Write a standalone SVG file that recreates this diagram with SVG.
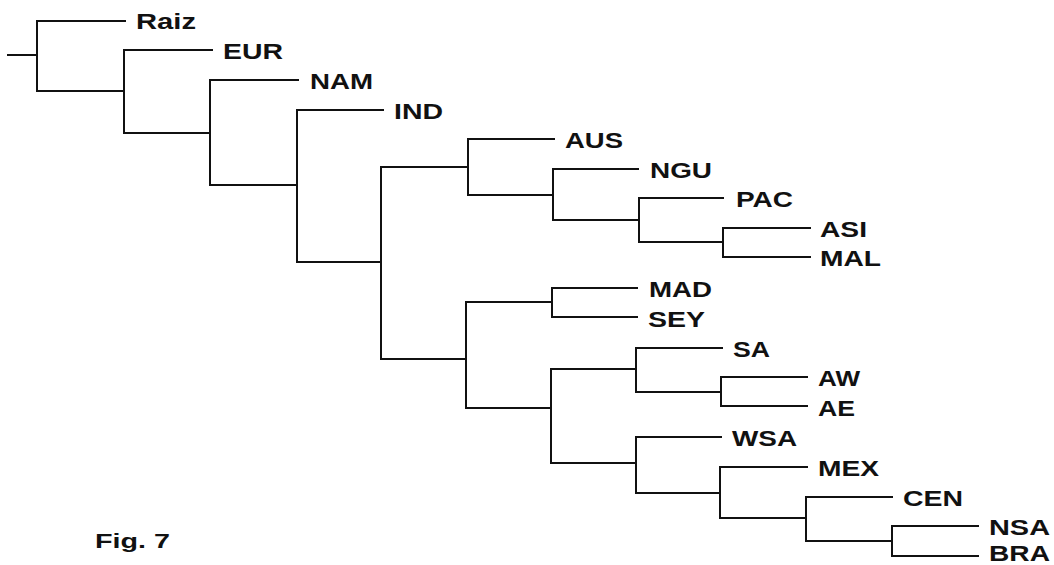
<svg xmlns="http://www.w3.org/2000/svg" width="1054" height="565" viewBox="0 0 1054 565">
<style>
.br{fill:none;stroke:#111;stroke-width:2;stroke-linejoin:miter;stroke-linecap:square}
.lb{font-family:"Liberation Sans",Arial,sans-serif;font-weight:bold;font-size:22px;fill:#111}
.fig{font-family:"Liberation Sans",Arial,sans-serif;font-weight:bold;font-size:21px;fill:#111}
</style>
<rect width="1054" height="565" fill="#fff"/>
<g id="connectors">
<path class="br" d="M8,55 H37"/>
<path class="br" d="M125,21 H37 V91 H124"/>
<path class="br" d="M212,50 H124 V133 H210"/>
<path class="br" d="M298,80 H210 V185 H297"/>
<path class="br" d="M383,110 H297 V262 H381"/>
<path class="br" d="M468,167 H381 V359 H466"/>
<path class="br" d="M554,139 H468 V195 H553"/>
<path class="br" d="M638,169 H553 V220 H639"/>
<path class="br" d="M723,198 H639 V242 H723"/>
<path class="br" d="M810,228 H723 V257 H810"/>
<path class="br" d="M552,302 H466 V408 H551"/>
<path class="br" d="M637,288 H552 V317 H637"/>
<path class="br" d="M636,369 H551 V463 H636"/>
<path class="br" d="M722,348 H636 V392 H721"/>
<path class="br" d="M807,377 H721 V406 H807"/>
<path class="br" d="M721,437 H636 V493 H720"/>
<path class="br" d="M807,467 H720 V518 H806"/>
<path class="br" d="M892,497 H806 V541 H892"/>
<path class="br" d="M978,526 H892 V556 H978"/>
</g>
<g id="Raiz"><text class="lb" x="136" y="29" textLength="60" lengthAdjust="spacingAndGlyphs">Raiz</text></g>
<g id="EUR"><text class="lb" x="223" y="59" textLength="60" lengthAdjust="spacingAndGlyphs">EUR</text></g>
<g id="NAM"><text class="lb" x="310" y="89" textLength="63" lengthAdjust="spacingAndGlyphs">NAM</text></g>
<g id="IND"><text class="lb" x="394" y="119" textLength="49" lengthAdjust="spacingAndGlyphs">IND</text></g>
<g id="AUS"><text class="lb" x="565" y="148" textLength="58" lengthAdjust="spacingAndGlyphs">AUS</text></g>
<g id="NGU"><text class="lb" x="650" y="178" textLength="62" lengthAdjust="spacingAndGlyphs">NGU</text></g>
<g id="PAC"><text class="lb" x="736" y="207" textLength="57" lengthAdjust="spacingAndGlyphs">PAC</text></g>
<g id="ASI"><text class="lb" x="820" y="237" textLength="47" lengthAdjust="spacingAndGlyphs">ASI</text></g>
<g id="MAL"><text class="lb" x="820" y="266" textLength="61" lengthAdjust="spacingAndGlyphs">MAL</text></g>
<g id="MAD"><text class="lb" x="649" y="297" textLength="63" lengthAdjust="spacingAndGlyphs">MAD</text></g>
<g id="SEY"><text class="lb" x="648" y="327" textLength="57" lengthAdjust="spacingAndGlyphs">SEY</text></g>
<g id="SA"><text class="lb" x="733" y="357" textLength="37" lengthAdjust="spacingAndGlyphs">SA</text></g>
<g id="AW"><text class="lb" x="818" y="386" textLength="42" lengthAdjust="spacingAndGlyphs">AW</text></g>
<g id="AE"><text class="lb" x="818" y="416" textLength="37" lengthAdjust="spacingAndGlyphs">AE</text></g>
<g id="WSA"><text class="lb" x="732" y="446" textLength="65" lengthAdjust="spacingAndGlyphs">WSA</text></g>
<g id="MEX"><text class="lb" x="818" y="476" textLength="61" lengthAdjust="spacingAndGlyphs">MEX</text></g>
<g id="CEN"><text class="lb" x="903" y="506" textLength="60" lengthAdjust="spacingAndGlyphs">CEN</text></g>
<g id="NSA"><text class="lb" x="989" y="535" textLength="61" lengthAdjust="spacingAndGlyphs">NSA</text></g>
<g id="BRA"><text class="lb" x="989" y="561" textLength="61" lengthAdjust="spacingAndGlyphs">BRA</text></g>
<g id="caption"><text class="fig" x="95" y="548" textLength="75" lengthAdjust="spacingAndGlyphs">Fig. 7</text></g>
</svg>
